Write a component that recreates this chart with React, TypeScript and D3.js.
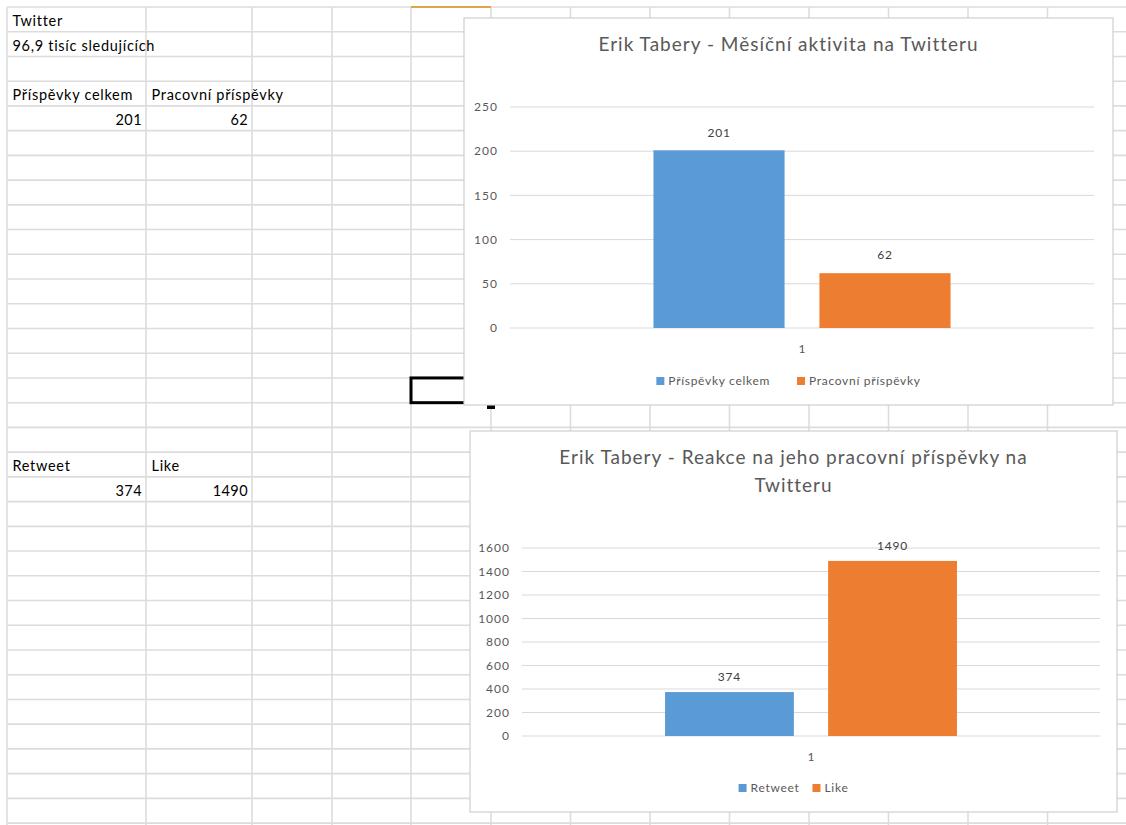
import React, { useEffect, useRef } from 'react';
import * as d3 from 'd3';

// sheet cells
const sheetName = 'Twitter';
const followersNote = '96,9 tisíc sledujících';

const activitySeries = ['Příspěvky celkem', 'Pracovní příspěvky'];
const activityValues = [201, 62];

const reactionSeries = ['Retweet', 'Like'];
const reactionValues = [374, 1490];

const categories = ['1'];
const seriesColors = ['#5b9bd5', '#ed7d31'];

const activityTitle = ['Erik Tabery - Měsíční aktivita na Twitteru'];
const reactionTitle = ['Erik Tabery - Reakce na jeho pracovní příspěvky na', 'Twitteru'];

const FONT = 'Lato, "Open Sans", sans-serif';

const App = () => {
  const svgRef = useRef(null);

  useEffect(() => {
    document.body.style.margin = '0';
    const svg = d3.select(svgRef.current);
    svg.selectAll('*').remove();

    // spreadsheet grid
    const colX = [7, 146, 252, 332, 411, 491, 570.5, 650, 729.5, 809, 888.5, 968, 1047.5, 1127];
    const rowH = 24.73;
    const rowY = d3.range(34).map(k => 7 + k * rowH);

    const grid = svg.append('g').attr('stroke', '#dcdcdc').attr('stroke-width', 1.6);
    colX.forEach(x => grid.append('line').attr('x1', x).attr('x2', x).attr('y1', 7).attr('y2', 825));
    rowY.forEach(y => grid.append('line').attr('x1', 7).attr('x2', 1126).attr('y1', y).attr('y2', y));

    // selected column header edge
    svg.append('line').attr('x1', 411).attr('x2', 491).attr('y1', 7).attr('y2', 7)
      .attr('stroke', '#e3a448').attr('stroke-width', 2);

    const cell = (txt, col, row, right = false) => {
      svg.append('text')
        .attr('x', right ? colX[col + 1] - 4 : colX[col] + 5.5)
        .attr('y', rowY[row] + 19)
        .attr('text-anchor', right ? 'end' : 'start')
        .attr('font-family', FONT)
        .attr('font-size', 14.5)
        .attr('letter-spacing', right ? 0.4 : 0.7)
        .attr('fill', '#000')
        .text(txt);
    };
    cell(sheetName, 0, 0);
    cell(followersNote, 0, 1);
    activitySeries.forEach((s, i) => cell(s, i, 3));
    activityValues.forEach((v, i) => cell(String(v), i, 4, true));
    reactionSeries.forEach((s, i) => cell(s, i, 18));
    reactionValues.forEach((v, i) => cell(String(v), i, 19, true));

    // active cell
    svg.append('rect').attr('x', 411).attr('y', rowY[15]).attr('width', 80).attr('height', rowH)
      .attr('fill', 'none').attr('stroke', '#000').attr('stroke-width', 3);
    svg.append('rect').attr('x', 487).attr('y', 403).attr('width', 8).attr('height', 6).attr('fill', '#000');

    const drawChart = (cfg) => {
      const g = svg.append('g');
      g.append('rect')
        .attr('x', cfg.box.x).attr('y', cfg.box.y)
        .attr('width', cfg.box.w).attr('height', cfg.box.h)
        .attr('fill', '#fff').attr('stroke', '#cfcfcf').attr('stroke-width', 1.2);

      const cx = cfg.box.x + cfg.box.w / 2;
      cfg.title.forEach((t, i) => {
        g.append('text')
          .attr('x', cx).attr('y', cfg.titleY + i * 28)
          .attr('text-anchor', 'middle')
          .attr('font-family', FONT).attr('font-size', 19)
          .attr('letter-spacing', 1)
          .attr('fill', '#595959')
          .text(t);
      });

      const y = d3.scaleLinear().domain(cfg.domain).range([cfg.bottom, cfg.top]);
      const x0 = d3.scaleBand().domain(categories).range([cfg.left, cfg.right])
        .paddingInner(0).paddingOuter(cfg.outer);
      const x1 = d3.scaleBand().domain(cfg.series).range([0, x0.bandwidth()])
        .paddingInner(0.21).paddingOuter(0);

      const ticks = y.ticks(cfg.tickCount);
      g.append('g').selectAll('line').data(ticks).join('line')
        .attr('x1', cfg.left).attr('x2', cfg.right)
        .attr('y1', d => y(d)).attr('y2', d => y(d))
        .attr('stroke', '#d9d9d9').attr('stroke-width', 1);
      g.append('g').selectAll('text').data(ticks).join('text')
        .attr('x', cfg.left - 12).attr('y', d => y(d))
        .attr('dy', '0.35em')
        .attr('text-anchor', 'end')
        .attr('font-family', FONT).attr('font-size', 12)
        .attr('letter-spacing', 1)
        .attr('fill', '#595959')
        .text(d => d);

      const rows = cfg.series.map((s, i) => ({ s, v: cfg.values[i], c: seriesColors[i] }));
      const grp = g.append('g').attr('transform', `translate(${x0(categories[0])},0)`);
      grp.selectAll('rect').data(rows).join('rect')
        .attr('x', d => x1(d.s)).attr('width', x1.bandwidth())
        .attr('y', d => y(d.v)).attr('height', d => y(0) - y(d.v))
        .attr('fill', d => d.c);
      grp.selectAll('text').data(rows).join('text')
        .attr('x', d => x1(d.s) + x1.bandwidth() / 2)
        .attr('y', d => y(d.v) - cfg.labelGap)
        .attr('dy', '0.35em')
        .attr('text-anchor', 'middle')
        .attr('font-family', FONT).attr('font-size', 12)
        .attr('letter-spacing', 0.8)
        .attr('fill', '#404040')
        .text(d => d.v);

      g.append('text')
        .attr('x', x0(categories[0]) + x0.bandwidth() / 2)
        .attr('y', cfg.catY).attr('dy', '0.35em')
        .attr('text-anchor', 'middle')
        .attr('font-family', FONT).attr('font-size', 12)
        .attr('fill', '#595959')
        .text(categories[0]);

      // legend, centred on the chart box
      const leg = g.append('g');
      let lx = 0;
      rows.forEach((d, i) => {
        const item = leg.append('g').attr('transform', `translate(${lx},0)`);
        item.append('rect').attr('x', 0).attr('y', -4).attr('width', 8).attr('height', 8).attr('fill', d.c);
        const t = item.append('text').attr('x', 12).attr('dy', '0.35em')
          .attr('font-family', FONT).attr('font-size', 12)
          .attr('letter-spacing', 0.7)
          .attr('fill', '#595959').text(d.s);
        lx += 12 + t.node().getComputedTextLength() + (i < rows.length - 1 ? cfg.legendGap : 0);
      });
      leg.attr('transform', `translate(${cx - lx / 2},${cfg.legendY})`);
    };

    drawChart({
      box: { x: 464, y: 18, w: 649, h: 387 },
      title: activityTitle, titleY: 51,
      series: activitySeries, values: activityValues,
      domain: [0, 250], tickCount: 5,
      left: 510, right: 1094, top: 107, bottom: 328,
      outer: 0.483, labelGap: 18, catY: 349, legendY: 381, legendGap: 27
    });

    drawChart({
      box: { x: 470, y: 431, w: 647, h: 381 },
      title: reactionTitle, titleY: 464,
      series: reactionSeries, values: reactionValues,
      domain: [0, 1600], tickCount: 8,
      left: 522, right: 1100, top: 548, bottom: 736,
      outer: 0.49, labelGap: 15, catY: 757, legendY: 788, legendGap: 13
    });
  }, []);

  return (
    <svg ref={svgRef} width={1126} height={825}
      style={{ display: 'block', position: 'absolute', left: 0, top: 0, background: '#fff' }} />
  );
};

export default App;
